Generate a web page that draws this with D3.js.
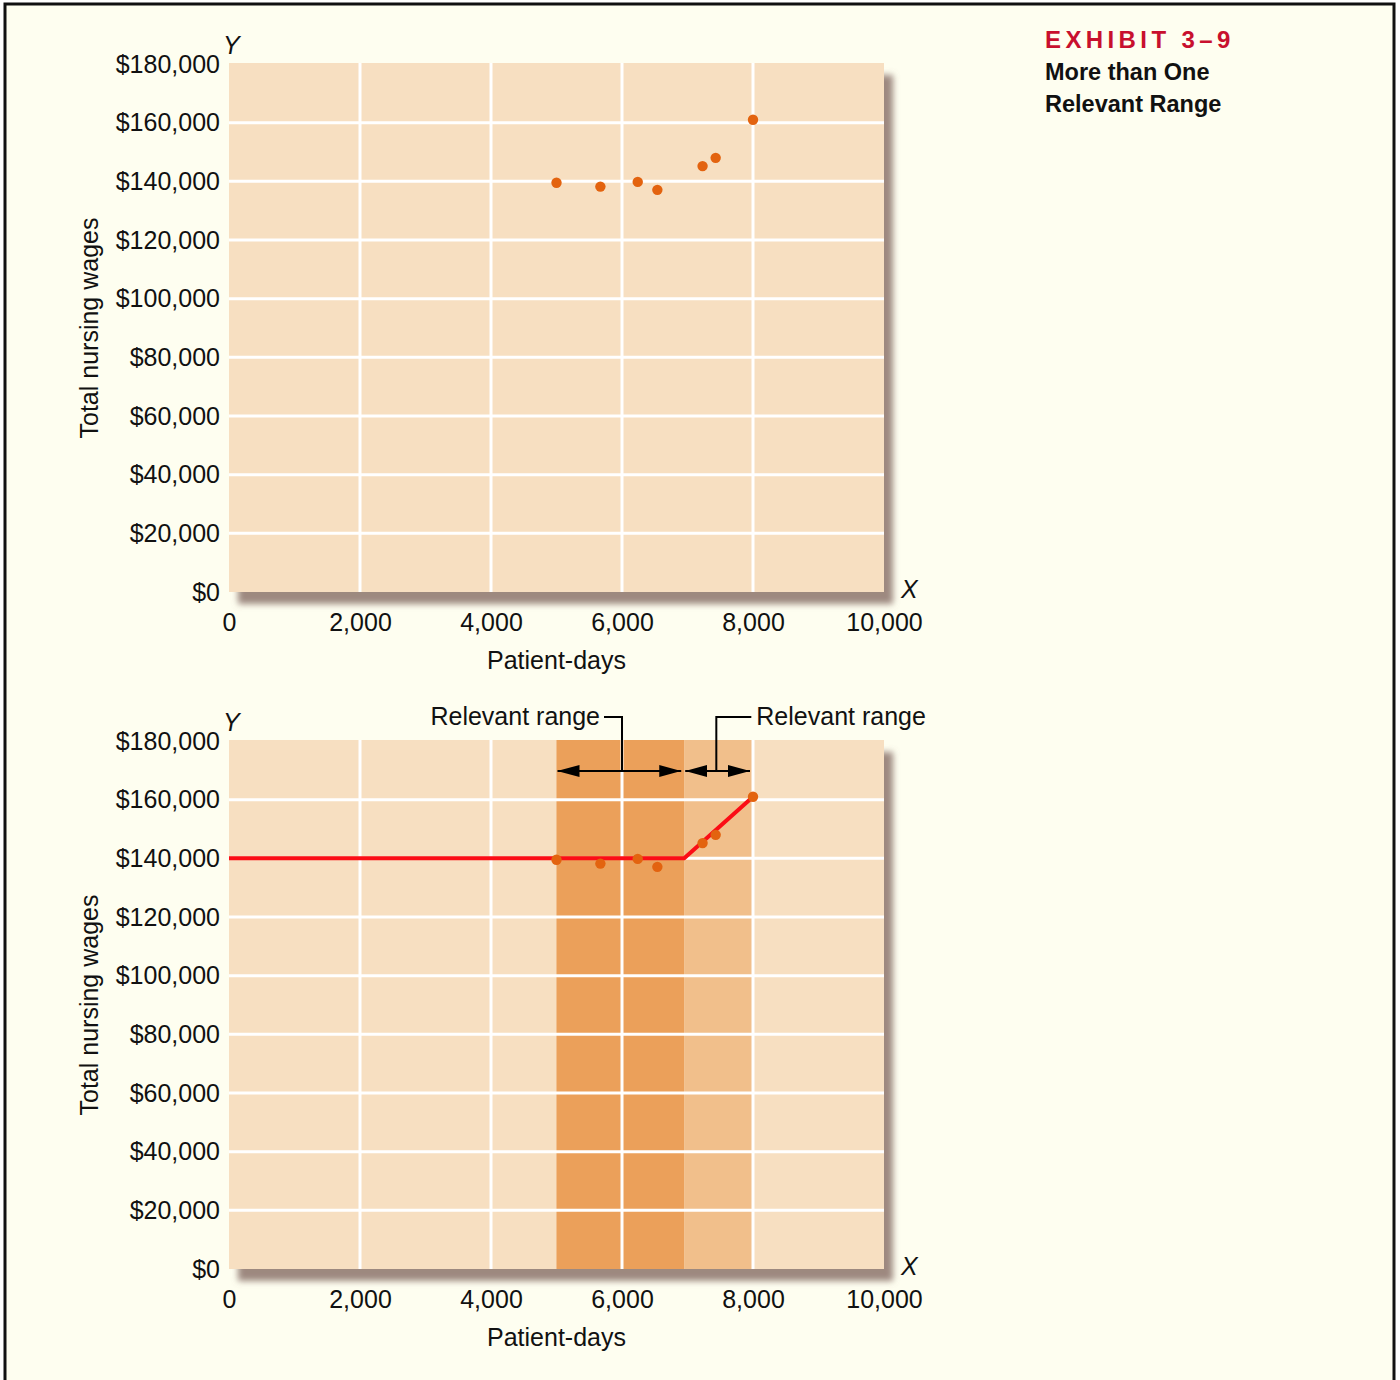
<!DOCTYPE html>
<html>
<head>
<meta charset="utf-8">
<script src="https://cdn.jsdelivr.net/npm/d3@7"></script>
<style>
  html, body { margin: 0; padding: 0; background: #ffffff; }
  svg { display: block; }
  text { font-family: "Liberation Sans", Arial, Helvetica, sans-serif; fill: #111; }
</style>
</head>
<body>
<script>
// Observed nursing wage data (patient-days, total wages)
const patientDays = [5000, 5670, 6240, 6540, 7230, 7430, 8000];
const nursingWages = [139500, 138200, 139800, 137100, 145200, 148000, 161000];

// Approximating cost line (piecewise), and the two relevant ranges
const costLineDays = [0, 6950, 8000];
const costLineWages = [140000, 140000, 161000];
const rangeStarts = [5000, 6950];
const rangeEnds = [6950, 8000];
const rangeLabels = ["Relevant range", "Relevant range"];

const xTicks = [0, 2000, 4000, 6000, 8000, 10000];
const yTicks = [0, 20000, 40000, 60000, 80000, 100000, 120000, 140000, 160000, 180000];

const titleLines = ["EXHIBIT 3\u20139", "More than One", "Relevant Range"];
const xTitle = "Patient-days";
const yTitle = "Total nursing wages";

const W = 1400, H = 1380;
const FS = "25px";
const svg = d3.select("body").append("svg").attr("width", W).attr("height", H);

const defs = svg.append("defs");
const shadow = defs.append("filter").attr("id", "plotShadow")
  .attr("x", "-5%").attr("y", "-5%").attr("width", "115%").attr("height", "115%");
shadow.append("feGaussianBlur").attr("in", "SourceAlpha").attr("stdDeviation", 3).attr("result", "b");
shadow.append("feOffset").attr("in", "b").attr("dx", 9).attr("dy", 12).attr("result", "o");
shadow.append("feFlood").attr("flood-color", "#8c746c").attr("flood-opacity", 0.85).attr("result", "c");
shadow.append("feComposite").attr("in", "c").attr("in2", "o").attr("operator", "in").attr("result", "s");
const m = shadow.append("feMerge");
m.append("feMergeNode").attr("in", "s");
m.append("feMergeNode").attr("in", "SourceGraphic");

const marker = defs.append("marker").attr("id", "arrowHead")
  .attr("viewBox", "0 0 22 12").attr("refX", 22).attr("refY", 6)
  .attr("markerWidth", 22).attr("markerHeight", 12)
  .attr("markerUnits", "userSpaceOnUse").attr("orient", "auto-start-reverse");
marker.append("path").attr("d", "M0,0 L22,6 L0,12 Z").attr("fill", "#000");

// page background and frame
svg.append("rect").attr("x", 5).attr("y", 4).attr("width", 1389).attr("height", H + 10)
  .attr("fill", "#fefef0").attr("stroke", "#111").attr("stroke-width", 3);

// title block
const tb = svg.append("g");
tb.append("text").attr("x", 1045).attr("y", 48).text(titleLines[0])
  .style("font-size", "24px").style("font-weight", "bold").style("letter-spacing", "4.4px")
  .style("fill", "#c8102e");
tb.append("text").attr("x", 1045).attr("y", 80).text(titleLines[1])
  .style("font-size", "23.5px").style("font-weight", "bold");
tb.append("text").attr("x", 1045).attr("y", 112).text(titleLines[2])
  .style("font-size", "23.5px").style("font-weight", "bold");

function drawPanel(top, withFit) {
  const left = 229, width = 655, height = 528;
  const x = d3.scaleLinear().domain([0, 10000]).range([left, left + width]);
  const y = d3.scaleLinear().domain([0, 180000]).range([top + height, top]);
  const g = svg.append("g");

  g.append("rect").attr("x", left).attr("y", top - 1).attr("width", width).attr("height", height + 1)
    .attr("fill", "#f7dfc1").attr("filter", "url(#plotShadow)");

  if (withFit) {
    const bandFill = ["#eba05a", "#f1bf8b"];
    g.selectAll("rect.band").data(rangeStarts).join("rect").attr("class", "band")
      .attr("x", d => x(d)).attr("y", top - 1)
      .attr("width", (d, i) => x(rangeEnds[i]) - x(d)).attr("height", height + 1)
      .attr("fill", (d, i) => bandFill[i]);
  }

  // white grid
  g.selectAll("line.gx").data(xTicks.filter(d => d > 0 && d < 10000)).join("line")
    .attr("x1", d => x(d)).attr("x2", d => x(d)).attr("y1", top - 1).attr("y2", top + height)
    .attr("stroke", "#fff").attr("stroke-width", 3);
  g.selectAll("line.gy").data(yTicks.filter(d => d > 0 && d < 180000)).join("line")
    .attr("x1", left).attr("x2", left + width).attr("y1", d => y(d)).attr("y2", d => y(d))
    .attr("stroke", "#fff").attr("stroke-width", 3);

  // axes (labels only)
  const yAxis = d3.axisLeft(y).tickValues(yTicks).tickSize(0).tickPadding(9)
    .tickFormat(d => "$" + d3.format(",")(d));
  const ya = g.append("g").attr("transform", `translate(${left},0)`).call(yAxis);
  ya.select(".domain").remove();
  ya.selectAll("text").style("font-size", FS).style("font-family", "Liberation Sans, Arial, sans-serif")
    .attr("fill", "#111");

  const xAxis = d3.axisBottom(x).tickValues(xTicks).tickSize(0).tickPadding(0)
    .tickFormat(d3.format(","));
  const xa = g.append("g").attr("transform", `translate(0,${top + height + 21})`).call(xAxis);
  xa.select(".domain").remove();
  xa.selectAll("text").style("font-size", FS).style("font-family", "Liberation Sans, Arial, sans-serif")
    .attr("fill", "#111");

  g.append("text").attr("x", x(5000)).attr("y", top + height + 77).attr("text-anchor", "middle")
    .style("font-size", FS).text(xTitle);
  g.append("text").attr("transform", `translate(98,${top + 264}) rotate(-90)`)
    .attr("text-anchor", "middle").style("font-size", FS).text(yTitle);

  g.append("text").attr("x", left - 6).attr("y", top - 10).style("font-size", "25px")
    .style("font-style", "italic").text("Y");
  g.append("text").attr("x", left + width + 17).attr("y", top + height + 6).style("font-size", "25px")
    .style("font-style", "italic").text("X");

  if (withFit) {
    const line = d3.line().x(d => x(d[0])).y(d => y(d[1]));
    g.append("path").datum(costLineDays.map((d, i) => [d, costLineWages[i]]))
      .attr("d", line).attr("fill", "none").attr("stroke", "#fb0d16").attr("stroke-width", 4)
      .attr("stroke-linejoin", "miter");
  }

  g.selectAll("circle.pt").data(patientDays).join("circle").attr("class", "pt")
    .attr("cx", d => x(d)).attr("cy", (d, i) => y(nursingWages[i])).attr("r", 5.2)
    .attr("fill", "#e3630f");

  if (withFit) {
    const ay = top + 30;
    const labelY = top - 16;
    rangeStarts.forEach((s, i) => {
      const e = rangeEnds[i];
      g.append("line").attr("x1", x(s) + 1).attr("x2", x(e) - 3).attr("y1", ay).attr("y2", ay)
        .attr("stroke", "#000").attr("stroke-width", 2)
        .attr("marker-start", "url(#arrowHead)").attr("marker-end", "url(#arrowHead)");
    });
    // leader for first range
    const lx1 = x(6000);
    g.append("path").attr("d", `M${lx1 - 18},${labelY - 8} H${lx1} V${ay}`)
      .attr("fill", "none").attr("stroke", "#000").attr("stroke-width", 2);
    g.append("text").attr("x", lx1 - 22).attr("y", labelY).attr("text-anchor", "end")
      .style("font-size", FS).text(rangeLabels[0]);
    // leader for second range
    const lx2 = x(7440);
    g.append("path").attr("d", `M${lx2 + 35},${labelY - 8} H${lx2} V${ay}`)
      .attr("fill", "none").attr("stroke", "#000").attr("stroke-width", 2);
    g.append("text").attr("x", lx2 + 40).attr("y", labelY).attr("text-anchor", "start")
      .style("font-size", FS).text(rangeLabels[1]);
  }
}

drawPanel(64, false);
drawPanel(741, true);
</script>
</body>
</html>
